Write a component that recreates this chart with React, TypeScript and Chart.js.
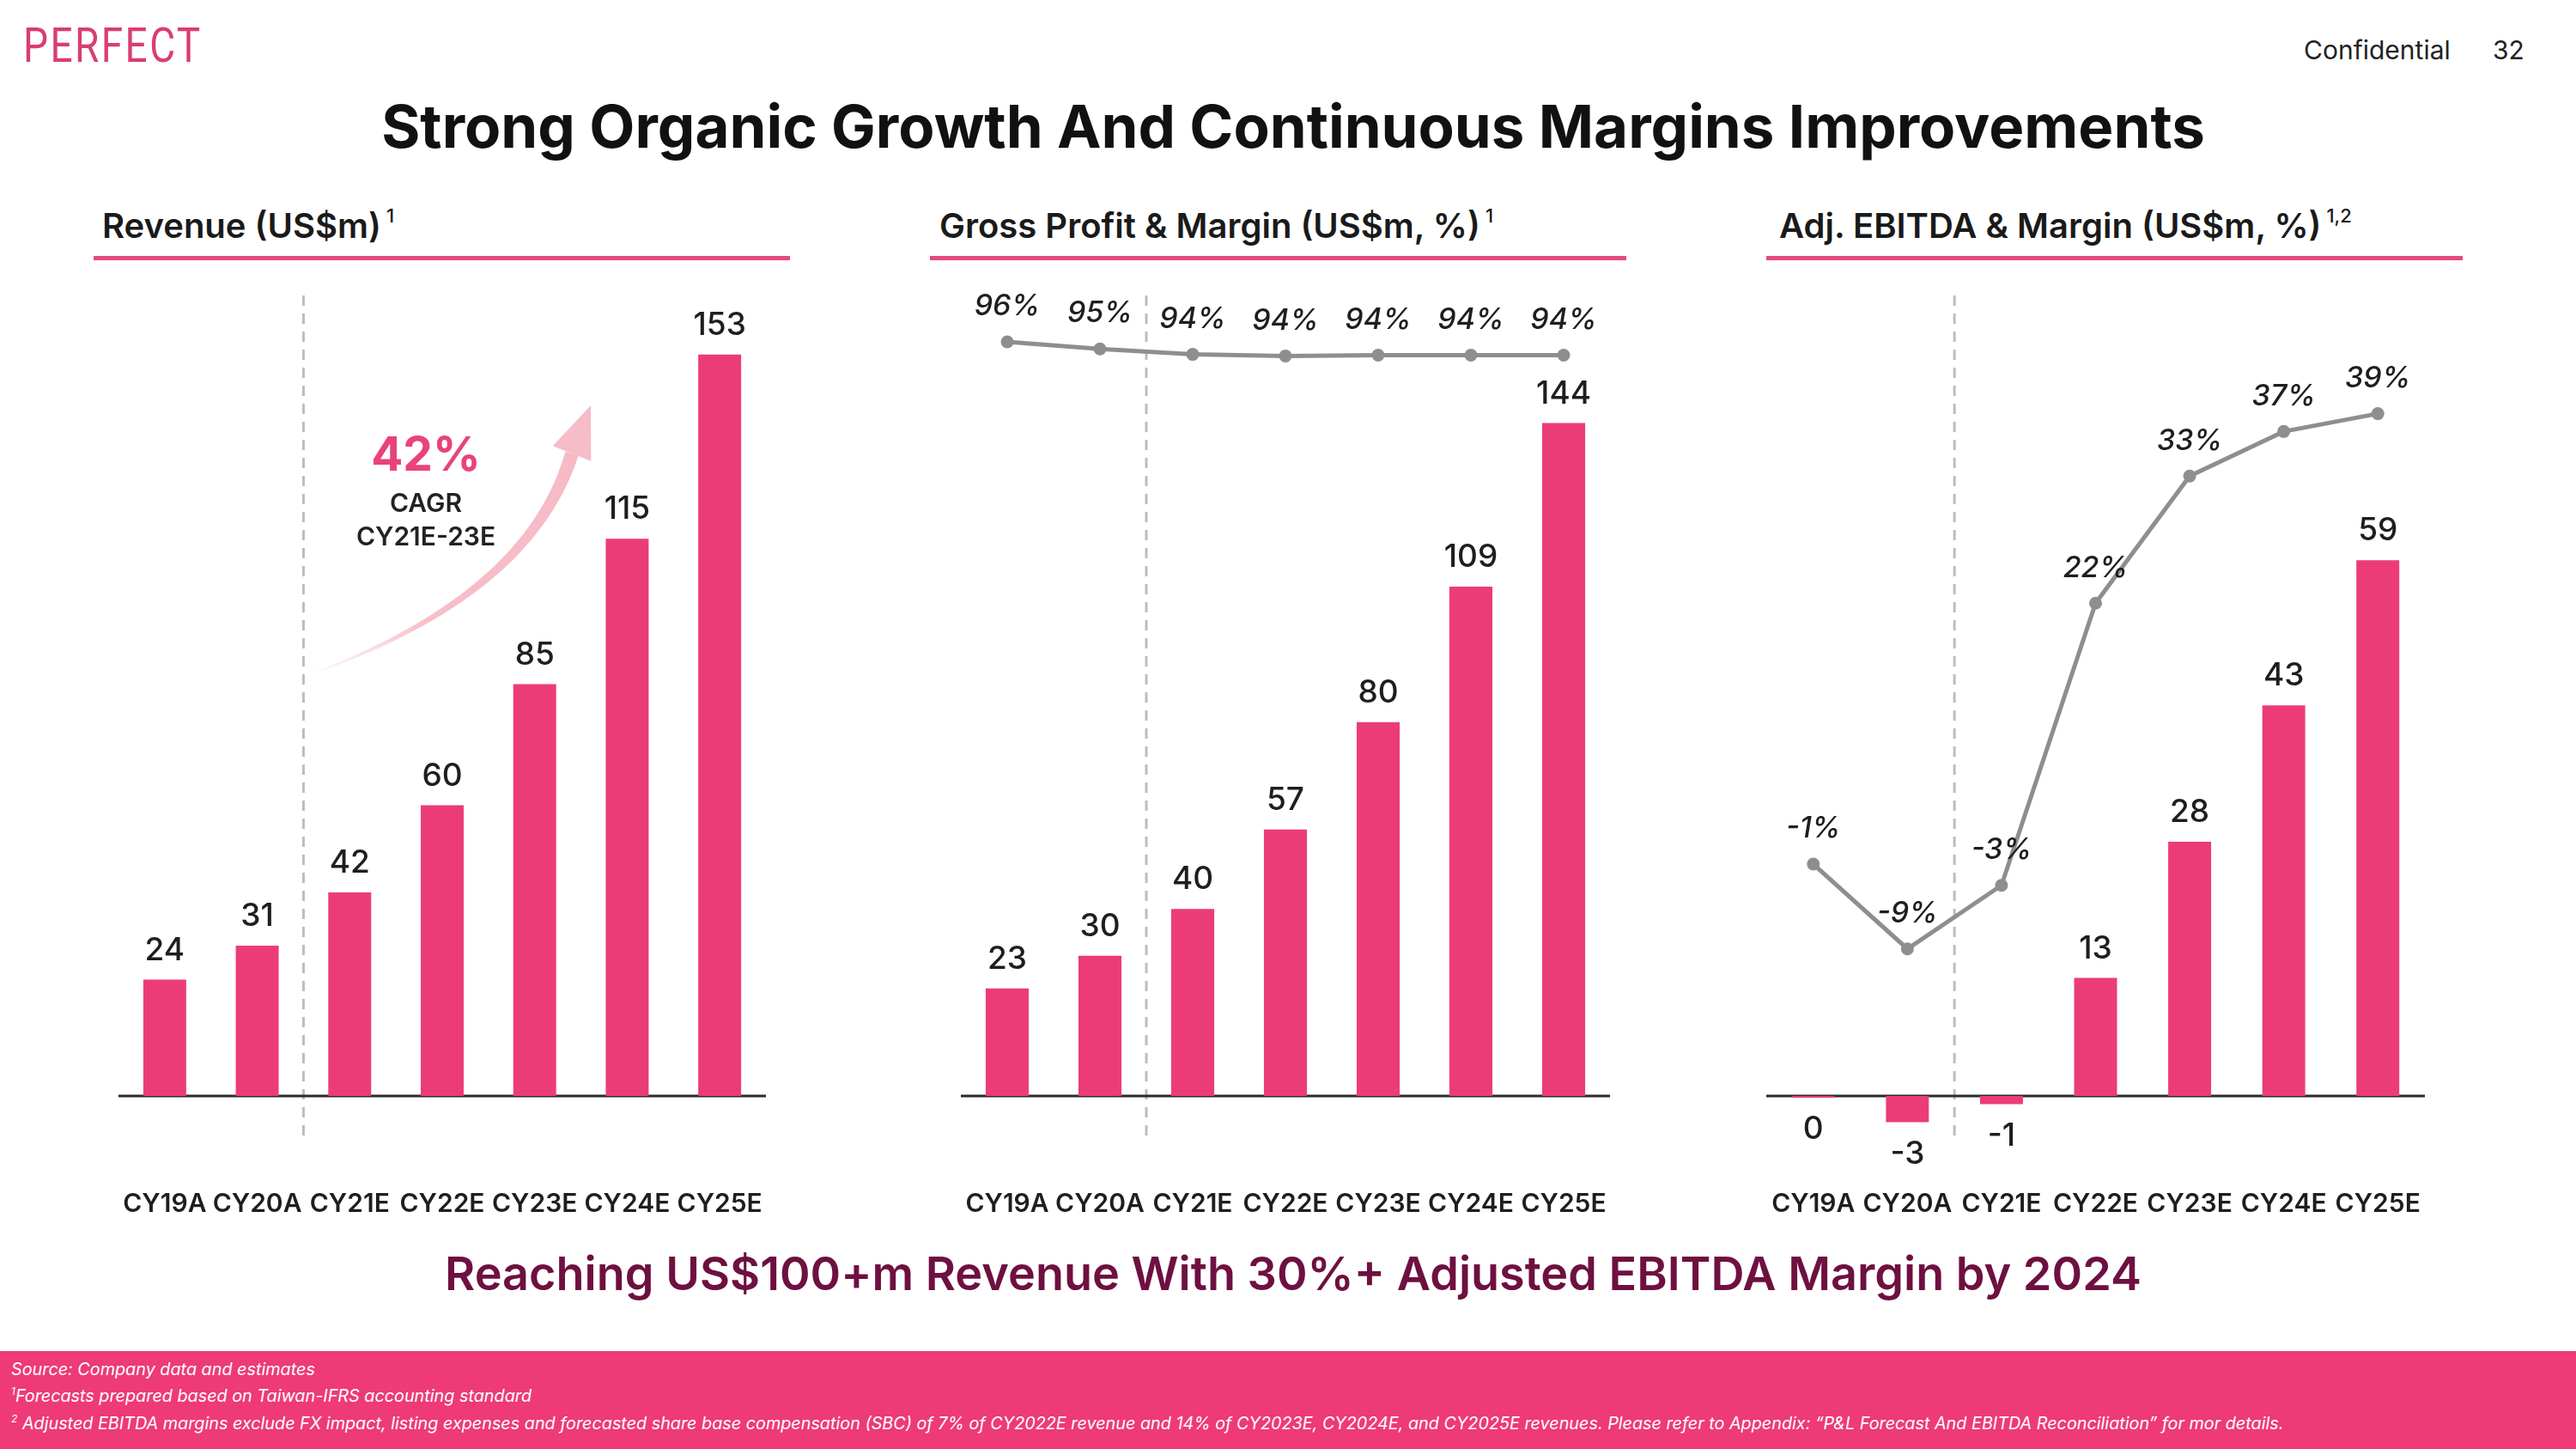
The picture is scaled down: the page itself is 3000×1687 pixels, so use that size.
import React, { useEffect, useRef } from "react";
import { Chart, registerables } from "chart.js";

Chart.register(...registerables);

// ---------- data ----------
const categories = ["CY19A", "CY20A", "CY21E", "CY22E", "CY23E", "CY24E", "CY25E"];
const revenue = [24, 31, 42, 60, 85, 115, 153];
const grossProfit = [23, 30, 40, 57, 80, 109, 144];
const grossMargin = [96.0, 95.1, 94.4, 94.2, 94.3, 94.3, 94.3];
const adjEbitda = [-0.2, -2.9, -0.9, 13, 28, 43, 59];
const ebitdaMargin = [-1.4, -9.0, -3.3, 22.0, 33.4, 37.4, 39.0];

const panelTitles = ["Revenue (US$m)", "Gross Profit & Margin (US$m, %)", "Adj. EBITDA & Margin (US$m, %)"];
const panelNotes = ["1", "1", "1,2"];

const PINK = "#EC3C77";
const GREY = "#8E8E8E";
const FONT = "Inter, 'Noto Sans', sans-serif";

const CANVAS_TOP = 300;
const CANVAS_H = 1176;

type PanelCfg = {
  left: number;
  width: number;
  bars: number[];
  barMin: number;
  barMax: number;
  barPct: number;
  line?: number[];
  lineMin?: number;
  lineMax?: number;
  arrow?: boolean;
};

const panels: PanelCfg[] = [
  { left: 98, width: 834, bars: revenue, barMin: -9.24, barMax: 165.2, barPct: 0.464, arrow: true },
  { left: 1079, width: 836, bars: grossProfit, barMin: -9.58, barMax: 171.3, barPct: 0.464, line: grossMargin, lineMin: -5.7, lineMax: 101.9 },
  { left: 2017, width: 847, bars: adjEbitda, barMin: -4.93, barMax: 88.15, barPct: 0.456, line: ebitdaMargin, lineMin: -26.2, lineMax: 49.6 },
];

const decorPlugin = {
  id: "decor",
  beforeDatasetsDraw(chart: any) {
    const { ctx, chartArea, scales } = chart;
    const x = scales.x;
    const y = scales.y;
    // dashed separator between actuals and estimates
    const dx = (x.getPixelForValue(1) + x.getPixelForValue(2)) / 2;
    ctx.save();
    ctx.strokeStyle = "#BDBDBD";
    ctx.lineWidth = 3;
    ctx.setLineDash([12, 9]);
    ctx.beginPath();
    ctx.moveTo(dx, chartArea.top);
    ctx.lineTo(dx, chartArea.bottom);
    ctx.stroke();
    ctx.restore();
    // zero baseline
    const zy = y.getPixelForValue(0);
    ctx.save();
    ctx.strokeStyle = "#2A2A2A";
    ctx.lineWidth = 3;
    ctx.beginPath();
    ctx.moveTo(chartArea.left, zy);
    ctx.lineTo(chartArea.right, zy);
    ctx.stroke();
    ctx.restore();

    const opts = chart.options.plugins.decor || {};
    if (opts.arrow) {
      // curved CAGR arrow (decoration), page coords converted to canvas coords
      const ox = opts.left;
      const oy = CANVAS_TOP;
      const P0 = [367 - ox, 783 - oy];
      const P1 = [617 - ox, 691 - oy];
      const P2 = [666 - ox, 528 - oy];
      const tip = [688 - ox, 472 - oy];
      const N = 50;
      const left: number[][] = [];
      const right: number[][] = [];
      for (let i = 0; i <= N; i++) {
        const t = i / N;
        const px = (1 - t) * (1 - t) * P0[0] + 2 * (1 - t) * t * P1[0] + t * t * P2[0];
        const py = (1 - t) * (1 - t) * P0[1] + 2 * (1 - t) * t * P1[1] + t * t * P2[1];
        const tx = 2 * (1 - t) * (P1[0] - P0[0]) + 2 * t * (P2[0] - P1[0]);
        const ty = 2 * (1 - t) * (P1[1] - P0[1]) + 2 * t * (P2[1] - P1[1]);
        const len = Math.hypot(tx, ty) || 1;
        const nx = -ty / len;
        const ny = tx / len;
        const w = (2 + 14 * t) / 2;
        left.push([px + nx * w, py + ny * w]);
        right.push([px - nx * w, py - ny * w]);
      }
      const grad = ctx.createLinearGradient(P0[0], P0[1], tip[0], tip[1]);
      grad.addColorStop(0, "rgba(244,170,185,0.05)");
      grad.addColorStop(0.3, "rgba(244,170,185,0.75)");
      grad.addColorStop(1, "rgba(246,186,197,1)");
      ctx.save();
      ctx.fillStyle = grad;
      ctx.beginPath();
      left.forEach((p, i) => (i === 0 ? ctx.moveTo(p[0], p[1]) : ctx.lineTo(p[0], p[1])));
      for (let i = right.length - 1; i >= 0; i--) ctx.lineTo(right[i][0], right[i][1]);
      ctx.closePath();
      ctx.fill();
      // head
      const dxh = tip[0] - P2[0];
      const dyh = tip[1] - P2[1];
      const l = Math.hypot(dxh, dyh);
      const nx = -dyh / l;
      const ny = dxh / l;
      ctx.fillStyle = "rgba(246,188,199,1)";
      ctx.beginPath();
      ctx.moveTo(tip[0], tip[1]);
      ctx.lineTo(P2[0] + nx * 24, P2[1] + ny * 24);
      ctx.lineTo(P2[0] - nx * 24, P2[1] - ny * 24);
      ctx.closePath();
      ctx.fill();
      ctx.restore();
    }
  },
  afterDatasetsDraw(chart: any) {
    const { ctx } = chart;
    chart.data.datasets.forEach((ds: any, di: number) => {
      const meta = chart.getDatasetMeta(di);
      meta.data.forEach((el: any, i: number) => {
        const v = ds.data[i];
        ctx.save();
        ctx.textAlign = "center";
        ctx.textBaseline = "middle";
        ctx.fillStyle = "#1E1E1E";
        if (ds.type === "bar") {
          ctx.font = `500 37px ${FONT}`;
          const txt = String(Math.round(v));
          const ty = v >= 0 ? el.y - 34 : el.y + 37;
          ctx.fillText(txt, el.x, ty);
        } else {
          ctx.font = `italic 500 34px ${FONT}`;
          ctx.fillText(String(Math.round(v)) + "%", el.x, el.y - 41);
        }
        ctx.restore();
      });
    });
  },
};

function Panel({ cfg }: { cfg: PanelCfg }) {
  const ref = useRef<HTMLCanvasElement>(null);
  useEffect(() => {
    const datasets: any[] = [
      {
        type: "bar",
        data: cfg.bars,
        backgroundColor: PINK,
        barPercentage: cfg.barPct,
        categoryPercentage: 1,
        yAxisID: "y",
        order: 2,
      },
    ];
    if (cfg.line) {
      datasets.push({
        type: "line",
        data: cfg.line,
        borderColor: GREY,
        backgroundColor: GREY,
        borderWidth: 5,
        pointRadius: 7.5,
        pointBackgroundColor: GREY,
        pointBorderWidth: 0,
        yAxisID: "y2",
        order: 1,
        tension: 0,
      });
    }
    const chart = new Chart(ref.current!, {
      type: "bar",
      data: { labels: categories, datasets },
      options: {
        responsive: false,
        animation: false,
        layout: { padding: { top: 44, left: 40, right: 40, bottom: 0 } },
        plugins: {
          legend: { display: false },
          tooltip: { enabled: false },
          decor: { arrow: !!cfg.arrow, left: cfg.left },
        } as any,
        scales: {
          x: {
            grid: { display: false, drawTicks: false },
            border: { display: false },
            ticks: {
              padding: 56,
              color: "#1E1E1E",
              font: { size: 30, weight: "600", family: FONT },
              maxRotation: 0,
              autoSkip: false,
            },
            afterFit: (axis: any) => {
              axis.paddingLeft = 0;
              axis.paddingRight = 0;
            },
          },
          y: { display: false, min: cfg.barMin, max: cfg.barMax },
          y2: { display: false, min: cfg.lineMin ?? 0, max: cfg.lineMax ?? 100, position: "right" },
        },
      },
      plugins: [decorPlugin],
    } as any);
    return () => chart.destroy();
  }, []);
  return (
    <canvas
      ref={ref}
      width={cfg.width}
      height={CANVAS_H}
      style={{ position: "absolute", left: cfg.left, top: CANVAS_TOP, width: cfg.width, height: CANVAS_H }}
    />
  );
}

const headingLeft = [119, 1094, 2072];
const underline = [
  [109, 920],
  [1083, 1894],
  [2057, 2868],
];

export default function App() {
  const abs = (o: React.CSSProperties): React.CSSProperties => ({ position: "absolute", whiteSpace: "nowrap", ...o });
  return (
    <div
      style={{
        position: "absolute",
        left: 0,
        top: 0,
        width: 3000,
        height: 1687,
        background: "#FFFFFF",
        overflow: "hidden",
        fontFamily: FONT,
      }}
    >
      <div
        style={abs({
          left: 27,
          top: 20,
          fontFamily: "Roboto, sans-serif",
          fontSize: 56,
          lineHeight: "66px",
          color: "#D93D73",
          letterSpacing: 3,
          transform: "scaleX(0.82)",
          transformOrigin: "left center",
        })}
      >
        PERFECT
      </div>
      <div style={abs({ left: 2683, top: 40, fontSize: 30, lineHeight: "36px", color: "#222" })}>Confidential</div>
      <div style={abs({ left: 2903, top: 40, fontSize: 30, lineHeight: "36px", color: "#222" })}>32</div>
      <div
        style={abs({
          left: 0,
          width: 3012,
          top: 107,
          textAlign: "center",
          fontSize: 69,
          fontWeight: 700,
          lineHeight: "80px",
          color: "#111",
        })}
      >
        Strong Organic Growth And Continuous Margins Improvements
      </div>
      {panelTitles.map((t, i) => (
        <div
          key={t}
          style={abs({ left: headingLeft[i], top: 227, fontSize: 40, fontWeight: 600, lineHeight: "48px", color: "#1A1A1A" })}
        >
          {t}
          <sup style={{ fontSize: 22, fontWeight: 500, marginLeft: 6, verticalAlign: 18 }}>{panelNotes[i]}</sup>
        </div>
      ))}
      {underline.map((u, i) => (
        <div key={i} style={abs({ left: u[0], top: 298, width: u[1] - u[0], height: 5, background: "#E54A7D" })} />
      ))}
      {panels.map((p, i) => (
        <Panel key={i} cfg={p} />
      ))}
      <div style={abs({ left: 296, width: 400, top: 498, textAlign: "center", fontSize: 55, fontWeight: 700, lineHeight: "60px", color: "#E8437C" })}>
        42%
      </div>
      <div style={abs({ left: 296, width: 400, top: 568, textAlign: "center", fontSize: 30, fontWeight: 600, lineHeight: "34px", color: "#222" })}>
        CAGR
      </div>
      <div style={abs({ left: 296, width: 400, top: 607, textAlign: "center", fontSize: 30, fontWeight: 600, lineHeight: "34px", color: "#222" })}>
        CY21E-23E
      </div>
      <div
        style={abs({
          left: 0,
          width: 3012,
          top: 1451,
          textAlign: "center",
          fontSize: 54,
          fontWeight: 600,
          lineHeight: "64px",
          color: "#6E1040",
        })}
      >
        Reaching US$100+m Revenue With 30%+ Adjusted EBITDA Margin by 2024
      </div>
      <div style={abs({ left: 0, top: 1573, width: 3000, height: 114, background: "#EE3A76" })} />
      <div style={abs({ left: 13, top: 1582, fontSize: 19.8, fontStyle: "italic", lineHeight: "24px", color: "#FFFFFF" })}>
        Source: Company data and estimates
      </div>
      <div style={abs({ left: 13, top: 1608, fontSize: 19.8, fontStyle: "italic", lineHeight: "24px", color: "#FFFFFF" })}>
        <sup style={{ fontSize: 12 }}>1</sup>Forecasts prepared based on Taiwan-IFRS accounting standard
      </div>
      <div style={abs({ left: 13, top: 1640, fontSize: 19.8, fontStyle: "italic", lineHeight: "24px", color: "#FFFFFF" })}>
        <sup style={{ fontSize: 12 }}>2</sup> Adjusted EBITDA margins exclude FX impact, listing expenses and forecasted share base compensation (SBC) of 7% of
        CY2022E revenue and 14% of CY2023E, CY2024E, and CY2025E revenues. Please refer to Appendix: “P&amp;L Forecast And EBITDA
        Reconciliation” for mor details.
      </div>
    </div>
  );
}
